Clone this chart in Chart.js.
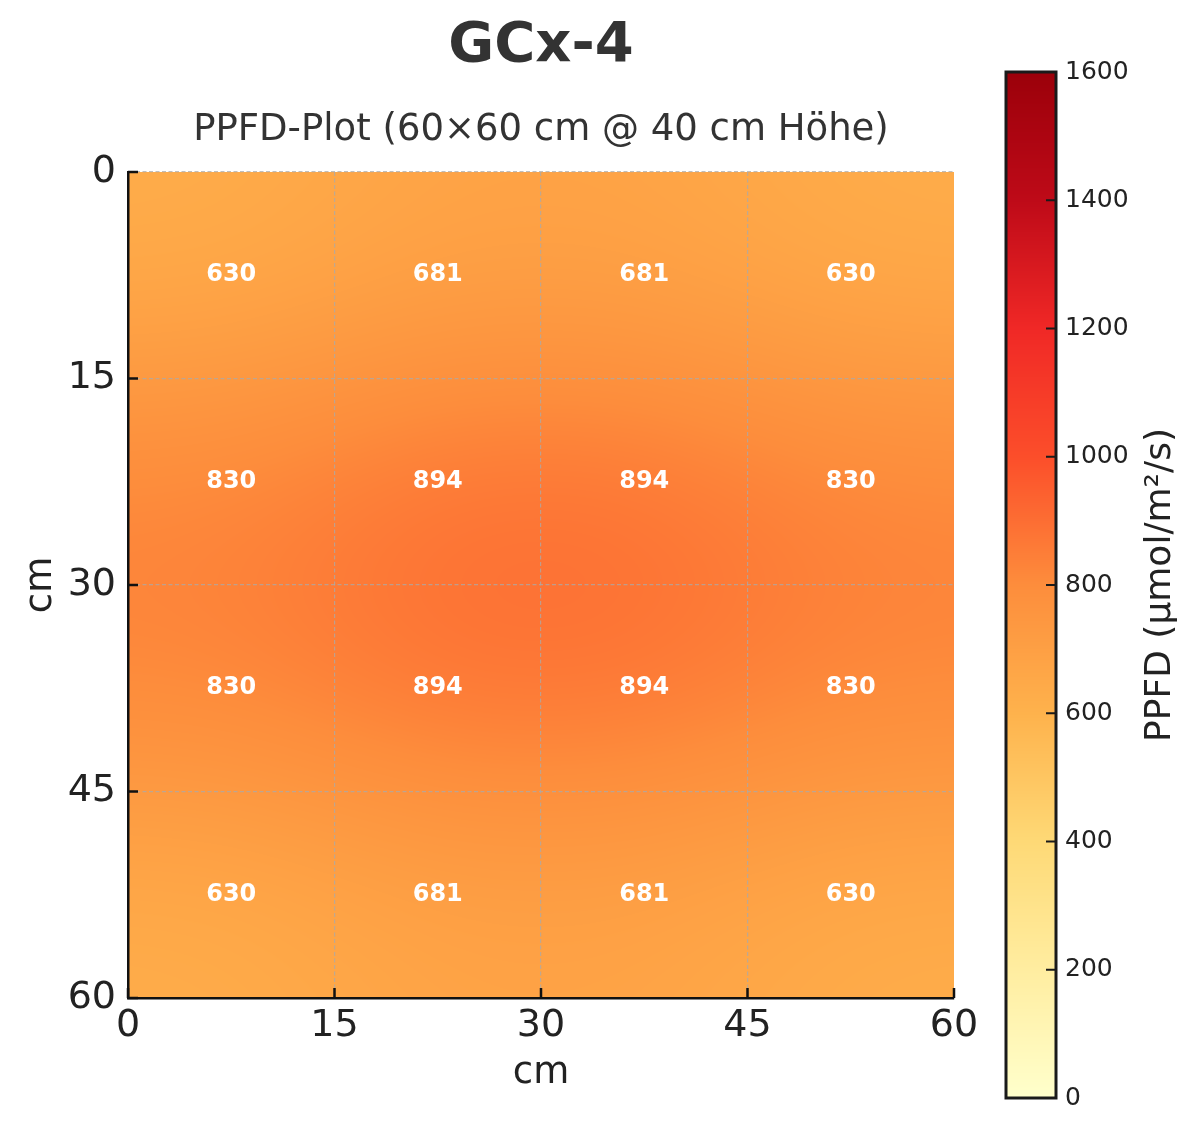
<!DOCTYPE html>
<html>
<head>
    <title>GCx-4 PPFD</title>
    <script src="https://cdn.jsdelivr.net/npm/chart.js"></script>
    <style>
        body { margin: 0; background: #fff; }
        #wrap { position: relative; width: 1200px; height: 1135px; }
        #heatChart { position: absolute; left: 0; top: 0; }
        #barChart { position: absolute; left: 960px; top: 0; }
    </style>
</head>
<body>
<div id="wrap">
    <canvas id="heatChart" width="1082" height="1135"></canvas>
    <canvas id="barChart" width="240" height="1135"></canvas>
</div>
<script>
// cell centres (cm) and PPFD values per cell, rows top -> bottom
const xCenters = [7.5, 22.5, 37.5, 52.5];
const yCenters = [7.5, 22.5, 37.5, 52.5];
const row1 = [630, 681, 681, 630];
const row2 = [830, 894, 894, 830];
const row3 = [830, 894, 894, 830];
const row4 = [630, 681, 681, 630];
const ppfd = [row1, row2, row3, row4];
const axisTicks = [0, 15, 30, 45, 60];
const cbarTicks = [0, 200, 400, 600, 800, 1000, 1200, 1400, 1600];
const vMin = 0, vMax = 1600;

// YlOrRd-like stops
const cmapStops = [
    [255, 255, 204], [255, 237, 160], [254, 217, 118], [254, 178, 76],
    [253, 141, 60], [252, 78, 42], [240, 40, 38], [190, 10, 24], [155, 0, 10]
];

function cmap(v) {
    let t = (v - vMin) / (vMax - vMin);
    t = Math.max(0, Math.min(1, t));
    const s = t * (cmapStops.length - 1);
    const i = Math.min(Math.floor(s), cmapStops.length - 2);
    const f = s - i;
    const a = cmapStops[i], b = cmapStops[i + 1];
    return [a[0] + (b[0] - a[0]) * f, a[1] + (b[1] - a[1]) * f, a[2] + (b[2] - a[2]) * f];
}

// cubic B-spline weights (smooth resampling)
function splineW(t) {
    const u = 1 - t;
    return [u * u * u / 6, (3 * t * t * t - 6 * t * t + 4) / 6, (-3 * t * t * t + 3 * t * t + 3 * t + 1) / 6, t * t * t / 6];
}

function sampleGrid(xv, yv) {
    const n = xCenters.length, m = yCenters.length;
    let u = (xv - xCenters[0]) / (xCenters[1] - xCenters[0]);
    let w = (yv - yCenters[0]) / (yCenters[1] - yCenters[0]);
    const i0 = Math.floor(u), j0 = Math.floor(w);
    const wx = splineW(u - i0), wy = splineW(w - j0);
    let sum = 0;
    for (let b = 0; b < 4; b++) {
        const j = Math.max(0, Math.min(m - 1, j0 - 1 + b));
        let rs = 0;
        for (let a = 0; a < 4; a++) {
            const i = Math.max(0, Math.min(n - 1, i0 - 1 + a));
            rs += wx[a] * ppfd[j][i];
        }
        sum += wy[b] * rs;
    }
    return sum;
}

const cellPoints = [];
yCenters.forEach((yc, j) => {
    xCenters.forEach((xc, i) => {
        cellPoints.push({ x: xc, y: yc, v: ppfd[j][i] });
    });
});

const heatmapPlugin = {
    id: 'heatmap',
    beforeDraw(chart) {
        const { ctx, chartArea, scales } = chart;
        const w = Math.round(chartArea.right - chartArea.left);
        const h = Math.round(chartArea.bottom - chartArea.top);
        const off = document.createElement('canvas');
        off.width = w; off.height = h;
        const octx = off.getContext('2d');
        const img = octx.createImageData(w, h);
        const xs = [];
        for (let px = 0; px < w; px++) xs.push(scales.x.getValueForPixel(chartArea.left + px + 0.5));
        for (let py = 0; py < h; py++) {
            const yv = scales.y.getValueForPixel(chartArea.top + py + 0.5);
            for (let px = 0; px < w; px++) {
                const c = cmap(sampleGrid(xs[px], yv));
                const k = (py * w + px) * 4;
                img.data[k] = c[0]; img.data[k + 1] = c[1]; img.data[k + 2] = c[2]; img.data[k + 3] = 255;
            }
        }
        octx.putImageData(img, 0, 0);
        ctx.drawImage(off, chartArea.left, chartArea.top);
    },
    afterDatasetsDraw(chart) {
        const { ctx } = chart;
        const meta = chart.getDatasetMeta(0);
        const ds = chart.data.datasets[0];
        ctx.save();
        ctx.fillStyle = '#ffffff';
        ctx.font = 'bold 24px "DejaVu Sans"';
        ctx.textAlign = 'center';
        ctx.textBaseline = 'middle';
        meta.data.forEach((el, i) => {
            ctx.fillText(String(ds.data[i].v), el.x, el.y);
        });
        ctx.restore();
    },
    afterDraw(chart) {
        // inward tick marks
        const { ctx, chartArea, scales } = chart;
        ctx.save();
        ctx.strokeStyle = '#111';
        ctx.lineWidth = 2.5;
        ctx.beginPath();
        scales.x.ticks.forEach(t => {
            const px = scales.x.getPixelForValue(t.value);
            ctx.moveTo(px, chartArea.bottom);
            ctx.lineTo(px, chartArea.bottom - 10);
        });
        scales.y.ticks.forEach(t => {
            const py = scales.y.getPixelForValue(t.value);
            ctx.moveTo(chartArea.left, py);
            ctx.lineTo(chartArea.left + 10, py);
        });
        ctx.stroke();
        ctx.restore();
    }
};

const gridColor = 'rgba(170,170,170,0.75)';

new Chart(document.getElementById('heatChart'), {
    type: 'scatter',
    data: {
        datasets: [{
            data: cellPoints,
            pointRadius: 0,
            pointHoverRadius: 0
        }]
    },
    options: {
        responsive: false,
        animation: false,
        devicePixelRatio: 1,
        layout: { padding: { left: 0, right: 128, top: 0, bottom: 0 } },
        events: [],
        plugins: {
            legend: { display: false },
            tooltip: { enabled: false },
            title: {
                display: true,
                fullSize: false,
                text: 'GCx-4',
                color: '#333333',
                font: { family: 'DejaVu Sans', size: 56, weight: 'bold', lineHeight: 1.2 },
                padding: { top: 12.5, bottom: 28.1 }
            },
            subtitle: {
                display: true,
                fullSize: false,
                text: 'PPFD-Plot (60×60 cm @ 40 cm Höhe)',
                color: '#333333',
                font: { family: 'DejaVu Sans', size: 37, lineHeight: 1.2 },
                padding: { top: 0, bottom: 19.8 }
            }
        },
        scales: {
            x: {
                type: 'linear',
                position: 'bottom',
                min: 0,
                max: 60,
                afterBuildTicks(scale) { scale.ticks = axisTicks.map(v => ({ value: v })); },
                afterFit(scale) { scale.height = 137; },
                ticks: {
                    color: '#222',
                    font: { family: 'DejaVu Sans', size: 38, lineHeight: 1 },
                    padding: 9,
                    maxRotation: 0
                },
                grid: {
                    drawTicks: false,
                    color: ctx => (ctx.tick && ctx.tick.value === 60) ? 'rgba(0,0,0,0)' : gridColor,
                    lineWidth: 1.2
                },
                border: { display: true, color: '#111', width: 2.5, dash: [4, 2.5] },
                title: {
                    display: true,
                    text: 'cm',
                    color: '#222',
                    font: { family: 'DejaVu Sans', size: 37, lineHeight: 1.2 },
                    padding: { top: 0, bottom: 39 }
                }
            },
            y: {
                type: 'linear',
                position: 'left',
                reverse: true,
                min: 0,
                max: 60,
                afterBuildTicks(scale) { scale.ticks = axisTicks.map(v => ({ value: v })); },
                afterFit(scale) { scale.width = 128; },
                ticks: {
                    color: '#222',
                    font: { family: 'DejaVu Sans', size: 38, lineHeight: 1 },
                    padding: 12
                },
                grid: {
                    drawTicks: false,
                    color: gridColor,
                    lineWidth: 1.2
                },
                border: { display: true, color: '#111', width: 2.5, dash: [4, 2.5] },
                title: {
                    display: true,
                    text: 'cm',
                    color: '#222',
                    font: { family: 'DejaVu Sans', size: 37, lineHeight: 1.2 },
                    padding: { top: 19, bottom: 0 }
                }
            }
        }
    },
    plugins: [heatmapPlugin]
});

const colorbarPlugin = {
    id: 'colorbar',
    beforeDraw(chart) {
        const { ctx, chartArea, scales } = chart;
        const ys = scales.y;
        for (let py = Math.floor(chartArea.top); py < chartArea.bottom; py++) {
            const c = cmap(ys.getValueForPixel(py + 0.5));
            ctx.fillStyle = 'rgb(' + c.map(Math.round).join(',') + ')';
            ctx.fillRect(chartArea.left, py, chartArea.right - chartArea.left, 1);
        }
    },
    afterDraw(chart) {
        const { ctx, chartArea, scales } = chart;
        ctx.save();
        ctx.strokeStyle = '#1a1a1a';
        ctx.lineWidth = 2;
        ctx.beginPath();
        scales.y.ticks.forEach(t => {
            const py = scales.y.getPixelForValue(t.value);
            ctx.moveTo(chartArea.right, py);
            ctx.lineTo(chartArea.right - 10, py);
        });
        ctx.stroke();
        ctx.lineWidth = 3;
        ctx.strokeRect(chartArea.left, chartArea.top, chartArea.right - chartArea.left, chartArea.bottom - chartArea.top);
        // colorbar label, reading bottom to top
        ctx.fillStyle = '#222';
        ctx.font = '36px "DejaVu Sans"';
        ctx.textAlign = 'center';
        ctx.textBaseline = 'alphabetic';
        ctx.translate(chartArea.right + 114, (chartArea.top + chartArea.bottom) / 2);
        ctx.rotate(-Math.PI / 2);
        ctx.fillText('PPFD (µmol/m²/s)', 0, 0);
        ctx.restore();
    }
};

new Chart(document.getElementById('barChart'), {
    type: 'scatter',
    data: { datasets: [{ data: [], pointRadius: 0 }] },
    options: {
        responsive: false,
        animation: false,
        devicePixelRatio: 1,
        events: [],
        layout: { padding: { left: 46, right: 0, top: 72, bottom: 37 } },
        plugins: { legend: { display: false }, tooltip: { enabled: false } },
        scales: {
            x: { display: false, min: 0, max: 1 },
            y: {
                type: 'linear',
                position: 'right',
                min: vMin,
                max: vMax,
                afterBuildTicks(scale) { scale.ticks = cbarTicks.map(v => ({ value: v })); },
                afterFit(scale) { scale.width = 144; },
                ticks: {
                    color: '#222',
                    font: { family: 'DejaVu Sans', size: 25, lineHeight: 1 },
                    padding: 9,
                    callback: v => String(v)
                },
                grid: { display: false, drawTicks: false },
                border: { display: false }
            }
        }
    },
    plugins: [colorbarPlugin]
});
</script>
</body>
</html>
